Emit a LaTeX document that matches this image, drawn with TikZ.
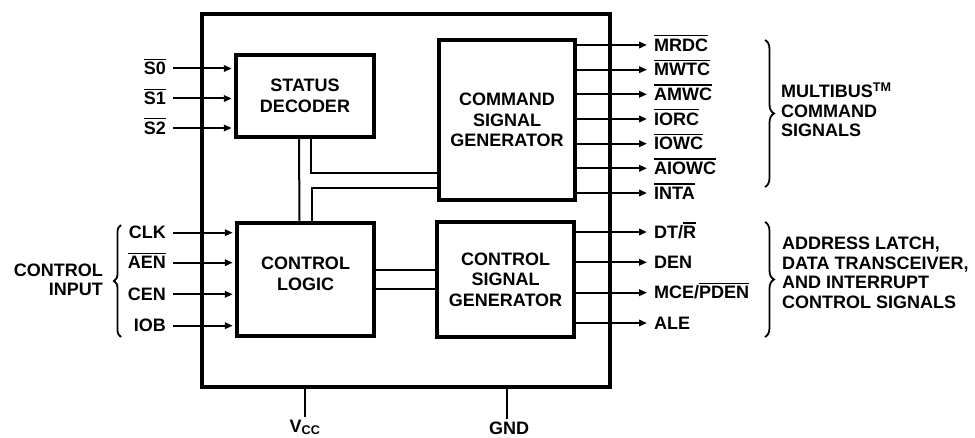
\documentclass[tikz,border=0pt]{standalone}
\usepackage{fontspec}
\setmainfont{Liberation Sans}
\usetikzlibrary{arrows.meta,positioning,decorations.pathreplacing}

\newcommand{\ovl}[1]{\leavevmode\vbox{\hrule height 1.3pt \kern 2.2pt \hbox{#1}}}

\begin{document}
\begin{tikzpicture}[
    x=1pt, y=-1pt,
    font=\fontsize{18}{20.5}\selectfont\bfseries,
    chip/.style={rectangle, draw, line width=4.5pt, minimum width=408pt, minimum height=373pt},
    box/.style={rectangle, draw, line width=4.5pt, align=center, inner sep=0pt},
    pinlbl/.style={inner xsep=7pt, inner ysep=0pt, text height=12.4pt, text depth=0pt},
    arrow/.style={-{Triangle[length=8pt, width=6.5pt]}, line width=2pt, shorten >=2pt},
    outarrow/.style={-{Triangle[length=8pt, width=6.5pt]}, line width=2pt},
    bus/.style={line width=2pt},
    rail/.style={line width=2.5pt},
    curly/.style={decorate, decoration={brace, amplitude=#1}, line width=1.8pt},
    sidetext/.style={font=\fontsize{18}{19.5}\selectfont\bfseries, inner sep=0pt}
]
    \useasboundingbox (0,0) rectangle (975,438);

    % package outline and blocks
    \node[chip] (chip) at (406,200.5) {};
    \node[box, minimum width=138pt, minimum height=82pt] (sd) at (305,96) {STATUS\\DECODER};
    \node[box, minimum width=136pt, minimum height=160pt] (cmd) at (507,120) {COMMAND\\SIGNAL\\GENERATOR};
    \node[box, minimum width=137pt, minimum height=113pt, text depth=12pt] (cl) at (305.5,279.5) {CONTROL\\LOGIC};
    \node[box, minimum width=137pt, minimum height=115pt] (csg) at (505.5,279.5) {CONTROL\\SIGNAL\\GENERATOR};

    % internal connections
    \draw[bus] ([xshift=-6pt]sd.south) -- ([xshift=-6pt]cl.north);
    \draw[bus] ([xshift=6pt]sd.south) |- ([yshift=-53pt]cmd.west);
    \draw[bus] ([xshift=6pt]cl.north) |- ([yshift=-68pt]cmd.west);
    \draw[bus] ([yshift=9.5pt]cl.east) -- ([yshift=9.5pt]csg.west);
    \draw[bus] ([yshift=-9.5pt]cl.east) -- ([yshift=-9.5pt]csg.west);

    % status inputs
    \node[pinlbl, anchor=east] (s0) at (173,68.5) {\ovl{S0}};
    \node[pinlbl, anchor=east] (s1) at (173,98.5) {\ovl{S1}};
    \node[pinlbl, anchor=east] (s2) at (173,128) {\ovl{S2}};
    \draw[arrow] (s0) -- (s0 -| sd.west);
    \draw[arrow] (s1) -- (s1 -| sd.west);
    \draw[arrow] (s2) -- (s2 -| sd.west);

    % control inputs
    \node[pinlbl, anchor=east] (clk) at (173,232.7) {CLK};
    \node[pinlbl, anchor=east] (aen) at (173,262.7) {\ovl{AEN}};
    \node[pinlbl, anchor=east] (cen) at (173,294.3) {CEN};
    \node[pinlbl, anchor=east] (iob) at (173,325.7) {IOB};
    \draw[arrow] (clk) -- (clk -| cl.west);
    \draw[arrow] (aen) -- (aen -| cl.west);
    \draw[arrow] (cen) -- (cen -| cl.west);
    \draw[arrow] (iob) -- (iob -| cl.west);

    % command outputs
    \node[pinlbl, anchor=west] (mrdc) at (647,45) {\ovl{MRDC}};
    \node[pinlbl, anchor=west] (mwtc) at (647,69.7) {\ovl{MWTC}};
    \node[pinlbl, anchor=west] (amwc) at (647,94.3) {\ovl{AMWC}};
    \node[pinlbl, anchor=west] (iorc) at (647,119) {\ovl{IORC}};
    \node[pinlbl, anchor=west] (iowc) at (647,143.7) {\ovl{IOWC}};
    \node[pinlbl, anchor=west] (aiowc) at (647,168.3) {\ovl{AIOWC}};
    \node[pinlbl, anchor=west] (inta) at (647,193) {\ovl{INTA}};
    \draw[outarrow] (mrdc -| cmd.east) -- (mrdc);
    \draw[outarrow] (mwtc -| cmd.east) -- (mwtc);
    \draw[outarrow] (amwc -| cmd.east) -- (amwc);
    \draw[outarrow] (iorc -| cmd.east) -- (iorc);
    \draw[outarrow] (iowc -| cmd.east) -- (iowc);
    \draw[outarrow] (aiowc -| cmd.east) -- (aiowc);
    \draw[outarrow] (inta -| cmd.east) -- (inta);

    % control outputs
    \node[pinlbl, anchor=west] (dtr) at (647,232) {DT/\ovl{R}};
    \node[pinlbl, anchor=west] (den) at (647,262.3) {DEN};
    \node[pinlbl, anchor=west] (mce) at (647,292.7) {MCE/\ovl{PDEN}};
    \node[pinlbl, anchor=west] (ale) at (647,323) {ALE};
    \draw[outarrow] (dtr -| csg.east) -- (dtr);
    \draw[outarrow] (den -| csg.east) -- (den);
    \draw[outarrow] (mce -| csg.east) -- (mce);
    \draw[outarrow] (ale -| csg.east) -- (ale);

    % supply pins
    \node[inner sep=2pt, anchor=base] (vcc) at (305,432) {V\textsubscript{CC}};
    \node[inner sep=2pt, anchor=base] (gnd) at (509,434) {GND};
    \draw[rail] (vcc.north -| 305,0) -- (chip.south -| 305,0);
    \draw[rail] (gnd.north -| 507,0) -- (chip.south -| 507,0);

    % braces and group labels
    \draw[curly=7pt] (121,337) -- (121,225);
    \node[sidetext, align=right, anchor=east] (ctlin) at (103,280) {CONTROL\\INPUT};
    \draw[curly=9pt] (765,40) -- (765,187);
    \node[sidetext, align=left, anchor=west] (mbus) at (781,110) {MULTIBUS\textsuperscript{TM}\\COMMAND\\SIGNALS};
    \draw[curly=9pt] (765,222) -- (765,337);
    \node[sidetext, align=left, anchor=west] (alsig) at (782,273) {ADDRESS LATCH,\\DATA TRANSCEIVER,\\AND INTERRUPT\\CONTROL SIGNALS};
\end{tikzpicture}
\end{document}
